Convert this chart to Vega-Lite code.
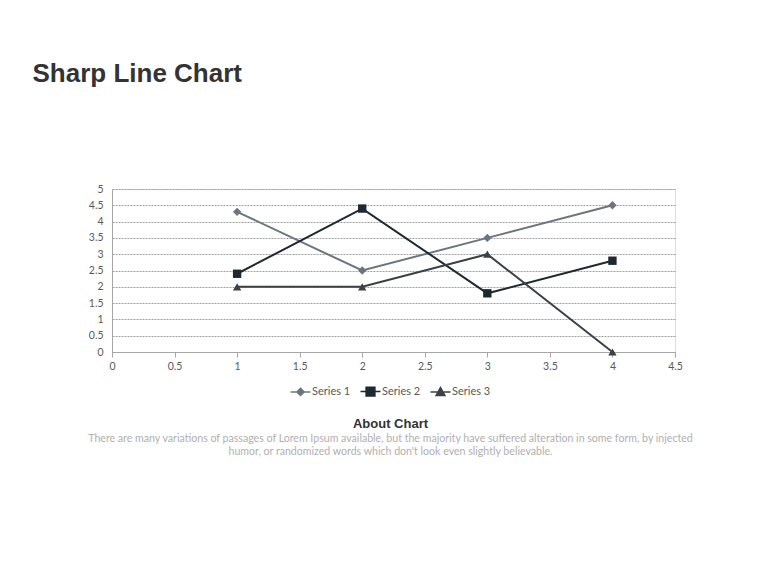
{
  "$schema": "https://vega.github.io/schema/vega-lite/v6.json",
  "autosize": {"type": "none"},
  "width": 563,
  "height": 163,
  "padding": {"left": 112, "top": 189, "right": 105, "bottom": 233},
  "background": "#ffffff",
  "title": {
    "text": "About Chart",
    "subtitle": ["There are many variations of passages of Lorem Ipsum available, but the majority have suffered  alteration in some form, by injected", "humor, or randomized words which don't look even slightly believable."],
    "orient": "bottom",
    "anchor": "middle",
    "frame": "group",
    "offset": 19,
    "dx": -3,
    "font": "Liberation Sans",
    "fontSize": 13,
    "fontWeight": "bold",
    "color": "#333333",
    "subtitleFont": "Lato",
    "subtitleFontSize": 10.6,
    "subtitleColor": "#b0b0b0",
    "subtitlePadding": 3,
    "subtitleLineHeight": 13
  },
  "data": {
    "values": [
      {"series": "Series 1", "x": 1, "y": 4.3},
      {"series": "Series 1", "x": 2, "y": 2.5},
      {"series": "Series 1", "x": 3, "y": 3.5},
      {"series": "Series 1", "x": 4, "y": 4.5},
      {"series": "Series 2", "x": 1, "y": 2.4},
      {"series": "Series 2", "x": 2, "y": 4.4},
      {"series": "Series 2", "x": 3, "y": 1.8},
      {"series": "Series 2", "x": 4, "y": 2.8},
      {"series": "Series 3", "x": 1, "y": 2},
      {"series": "Series 3", "x": 2, "y": 2},
      {"series": "Series 3", "x": 3, "y": 3},
      {"series": "Series 3", "x": 4, "y": 0}
    ]
  },
  "encoding": {
    "x": {
      "field": "x",
      "type": "quantitative",
      "scale": {"domain": [0, 4.5], "nice": false},
      "axis": {
        "title": null,
        "values": [0, 0.5, 1, 1.5, 2, 2.5, 3, 3.5, 4, 4.5],
        "format": "~g",
        "grid": false,
        "labelFlush": false,
        "labelOverlap": false,
        "domainColor": "#a6a6a6",
        "tickColor": "#a6a6a6",
        "tickSize": 5,
        "labelPadding": 4,
        "labelFont": "Lato",
        "labelFontSize": 10.5,
        "labelColor": "#595959"
      }
    },
    "y": {
      "field": "y",
      "type": "quantitative",
      "scale": {"domain": [0, 5], "nice": false},
      "axis": {
        "title": "Sharp Line Chart",
        "titleAngle": 0,
        "titleAlign": "left",
        "titleBaseline": "alphabetic",
        "titleX": -80,
        "titleY": -108,
        "titleFont": "Liberation Sans",
        "titleFontSize": 26,
        "titleFontWeight": "bold",
        "titleColor": "#333333",
        "values": [0, 0.5, 1, 1.5, 2, 2.5, 3, 3.5, 4, 4.5, 5],
        "format": "~g",
        "grid": true,
        "gridColor": "#a0a0a0",
        "gridDash": [2, 1],
        "gridWidth": 1,
        "ticks": false,
        "labelFlush": false,
        "labelOverlap": false,
        "domainColor": "#a6a6a6",
        "labelPadding": 9,
        "labelFont": "Lato",
        "labelFontSize": 10.5,
        "labelColor": "#595959"
      }
    },
    "color": {
      "field": "series",
      "type": "nominal",
      "scale": {"range": ["#6b757f", "#1e2831", "#3b4046"]},
      "legend": {
        "title": null,
        "orient": "none",
        "legendX": 183,
        "legendY": 197,
        "direction": "horizontal",
        "padding": 0,
        "labelFont": "Lato",
        "labelFontSize": 11,
        "labelColor": "#595959",
        "labelOffset": 6,
        "symbolSize": 64,
        "columnPadding": 6,
        "encode": {
          "symbols": {
            "update": {
              "shape": {"signal": "datum.value === 'Series 1' ? 'M-2.5,0H2.5M0,-0.9L0.9,0L0,0.9L-0.9,0Z' : datum.value === 'Series 2' ? 'M-2.5,0H2.5M-1.1,-1.1H1.1V1.1H-1.1Z' : 'M-2.5,0H2.5M0,-1.1L1.1,0.9H-1.1Z'"},
              "fill": {"signal": "scale('color', datum.value)"},
              "stroke": {"signal": "scale('color', datum.value)"},
              "strokeWidth": {"value": 1.5},
              "opacity": {"value": 1},
              "fillOpacity": {"value": 1},
              "strokeOpacity": {"value": 1}
            }
          }
        }
      }
    }
  },
  "layer": [
    {"mark": {"type": "line", "strokeWidth": 2}},
    {
      "mark": {"type": "point", "filled": true, "opacity": 1, "size": 70},
      "encoding": {
        "shape": {
          "field": "series",
          "type": "nominal",
          "scale": {"range": ["diamond", "square", "triangle-up"]},
          "legend": null
        }
      }
    }
  ]
}
